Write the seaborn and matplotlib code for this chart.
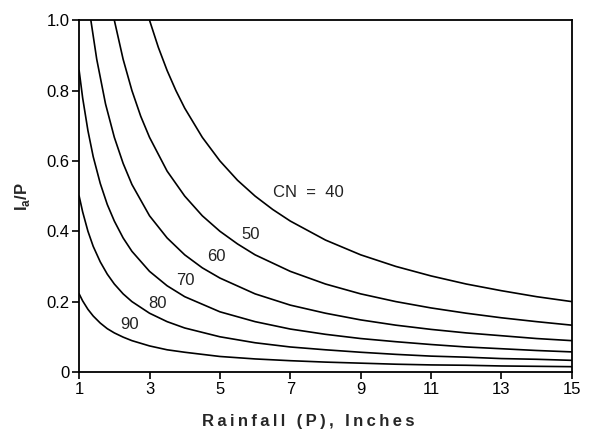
import pandas as pd
import matplotlib
matplotlib.use("Agg")
import matplotlib.pyplot as plt
import seaborn as sns

# values (Ia/P against rainfall P)
P_40 = [3, 3.25, 3.5, 3.75, 4, 4.5, 5, 5.5, 6, 6.5, 7, 8, 9, 10, 11, 12, 13, 14, 15]
IA_40 = [1.0, 0.923, 0.857, 0.8, 0.75, 0.667, 0.6, 0.545, 0.5, 0.462, 0.429,
         0.375, 0.333, 0.3, 0.273, 0.25, 0.231, 0.214, 0.2]

P_50 = [2, 2.25, 2.5, 2.75, 3, 3.5, 4, 4.5, 5, 5.5, 6, 7, 8, 9, 10, 11, 12, 13, 14, 15]
IA_50 = [1.0, 0.889, 0.8, 0.727, 0.667, 0.571, 0.5, 0.444, 0.4, 0.364, 0.333,
         0.286, 0.25, 0.222, 0.2, 0.182, 0.167, 0.154, 0.143, 0.133]

P_60 = [1.333, 1.5, 1.75, 2, 2.25, 2.5, 3, 3.5, 4, 4.5, 5, 6, 7, 8, 9, 10, 11, 12, 13, 14, 15]
IA_60 = [1.0, 0.889, 0.762, 0.667, 0.593, 0.533, 0.444, 0.381, 0.333, 0.296, 0.267,
         0.222, 0.19, 0.167, 0.148, 0.133, 0.121, 0.111, 0.103, 0.095, 0.089]

P_LOW = [1, 1.1, 1.25, 1.4, 1.6, 1.8, 2, 2.25, 2.5, 3, 3.5, 4, 5, 6, 7, 8, 9, 10,
         11, 12, 13, 14, 15]
IA_70 = [0.857, 0.779, 0.686, 0.612, 0.536, 0.476, 0.429, 0.381, 0.343, 0.286, 0.245,
         0.214, 0.171, 0.143, 0.122, 0.107, 0.095, 0.086, 0.078, 0.071, 0.066, 0.061, 0.057]
IA_80 = [0.5, 0.455, 0.4, 0.357, 0.313, 0.278, 0.25, 0.222, 0.2, 0.167, 0.143,
         0.125, 0.1, 0.083, 0.071, 0.063, 0.056, 0.05, 0.045, 0.042, 0.038, 0.036, 0.033]
IA_90 = [0.222, 0.202, 0.178, 0.159, 0.139, 0.123, 0.111, 0.099, 0.089, 0.074, 0.063,
         0.056, 0.044, 0.037, 0.032, 0.028, 0.025, 0.022, 0.02, 0.019, 0.017, 0.016, 0.015]

CURVES = {40: (P_40, IA_40), 50: (P_50, IA_50), 60: (P_60, IA_60),
          70: (P_LOW, IA_70), 80: (P_LOW, IA_80), 90: (P_LOW, IA_90)}

LABELS = ["CN  =  40", "50", "60", "70", "80", "90"]
LABEL_X = [6.5, 5.62, 4.65, 3.75, 2.97, 2.18]
LABEL_Y = [0.51, 0.39, 0.327, 0.26, 0.196, 0.136]

X_TICKS = [1, 3, 5, 7, 9, 11, 13, 15]
Y_TICKS = [0, 0.2, 0.4, 0.6, 0.8, 1.0]
Y_TICK_LABELS = ["0", "0.2", "0.4", "0.6", "0.8", "1.0"]

rows = []
for cn, (ps, vals) in CURVES.items():
    for p, v in zip(ps, vals):
        rows.append({"CN": cn, "P": p, "IaP": v})
df = pd.DataFrame(rows)

sns.set_style("ticks")
plt.rcParams["font.family"] = ["Liberation Sans", "DejaVu Sans"]

fig = plt.figure(figsize=(5.95, 4.30), dpi=100)
ax = fig.add_axes([0.133, 0.135, 0.828, 0.818])

sns.lineplot(data=df, x="P", y="IaP", units="CN", estimator=None,
             color="black", linewidth=1.2, ax=ax, legend=False)

for txt, lx, ly in zip(LABELS, LABEL_X, LABEL_Y):
    ax.text(lx, ly, txt, fontsize=12, ha="left", va="center", color="#222222")

ax.set_xlim(1, 15)
ax.set_ylim(0, 1.0)
ax.set_xticks(X_TICKS)
ax.set_xticklabels([str(t) for t in X_TICKS])
ax.set_yticks(Y_TICKS)
ax.set_yticklabels(Y_TICK_LABELS)
ax.tick_params(direction="out", length=5, width=1.2, labelsize=12, colors="black", pad=2)
for sp in ax.spines.values():
    sp.set_linewidth(1.3)
    sp.set_color("black")

xlabel = "\u2009".join("Rainfall (P), Inches")
ax.set_xlabel(xlabel, fontsize=12, fontweight="bold")
ax.xaxis.set_label_coords(0.465, -0.12)
ax.set_ylabel(r"I$_\mathregular{a}$/P", fontsize=12, fontweight="bold", labelpad=10)

fig.savefig("out.png", dpi=100)
